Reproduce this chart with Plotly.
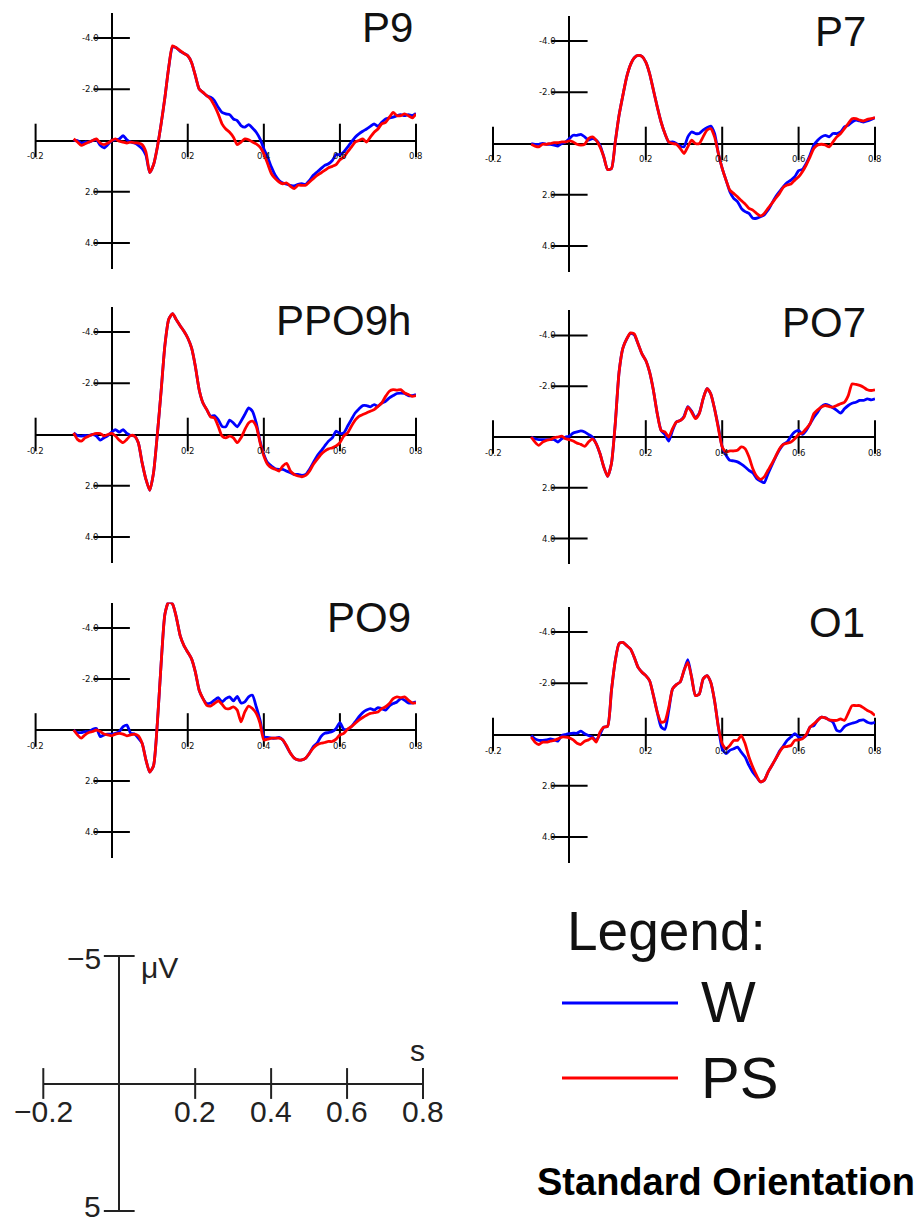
import plotly.graph_objects as go

# ---------------- data (µV, negative plotted upwards) ----------------
TIME_MS = list(range(-100, 801, 10))
TIME_S = [ms / 1000 for ms in TIME_MS]

P9_W = [0.00, 0.00, 0.10, 0.06, 0.06, 0.00, -0.03, 0.19, 0.29, 0.16,
        0.00, -0.03, -0.06, -0.19, -0.03, 0.06, 0.10, 0.19, 0.32, 0.58,
        1.25, 0.95, 0.26, -0.65, -1.69, -2.86, -3.65, -3.62, -3.48, -3.40,
        -3.31, -3.05, -2.53, -2.01, -1.88, -1.75, -1.69, -1.56, -1.30, -1.10,
        -1.04, -1.01, -0.84, -0.78, -0.58, -0.52, -0.62, -0.49, -0.32, -0.06,
        0.32, 0.65, 1.04, 1.36, 1.56, 1.66, 1.71, 1.75, 1.77, 1.71,
        1.69, 1.71, 1.56, 1.36, 1.23, 1.10, 0.97, 0.91, 0.78, 0.55,
        0.55, 0.45, 0.26, 0.06, -0.13, -0.26, -0.36, -0.45, -0.55, -0.65,
        -0.55, -0.71, -0.84, -0.88, -0.91, -0.97, -1.01, -0.97, -1.01, -0.97,
        -1.06]
P9_PS = [-0.06, 0.06, 0.19, 0.13, 0.06, 0.00, -0.06, 0.10, 0.16, 0.10,
         0.00, -0.06, 0.03, 0.06, 0.10, 0.06, 0.09, 0.10, 0.16, 0.45,
         1.25, 0.95, 0.26, -0.65, -1.69, -2.86, -3.70, -3.62, -3.51, -3.40,
         -3.31, -3.05, -2.53, -2.01, -1.88, -1.75, -1.62, -1.36, -1.04, -0.65,
         -0.45, -0.32, -0.13, 0.16, 0.06, -0.06, -0.03, 0.06, 0.13, 0.26,
         0.52, 0.91, 1.30, 1.49, 1.62, 1.69, 1.66, 1.79, 1.88, 1.75,
         1.75, 1.75, 1.62, 1.49, 1.36, 1.27, 1.17, 1.06, 1.01, 0.94,
         0.75, 0.65, 0.45, 0.26, 0.06, 0.00, -0.06, 0.06, -0.13, -0.32,
         -0.45, -0.65, -0.71, -0.91, -1.10, -0.97, -0.97, -1.04, -0.97, -0.88,
         -1.04]

P7_W = [0.00, 0.03, 0.03, 0.00, 0.03, 0.03, 0.06, 0.10, 0.00, -0.06,
        -0.19, -0.32, -0.32, -0.36, -0.26, -0.13, -0.19, -0.13, 0.06, 0.52,
        1.02, 0.98, -0.06, -1.10, -1.88, -2.60, -3.08, -3.35, -3.44, -3.40,
        -3.18, -2.73, -2.08, -1.43, -0.84, -0.39, -0.06, -0.06, 0.00, 0.10,
        0.13, -0.26, -0.45, -0.39, -0.39, -0.52, -0.62, -0.68, -0.39, 0.39,
        0.97, 1.43, 1.88, 2.14, 2.27, 2.53, 2.66, 2.73, 2.92, 2.92,
        2.86, 2.79, 2.60, 2.34, 2.08, 1.88, 1.69, 1.53, 1.43, 1.30,
        1.06, 1.01, 0.78, 0.45, 0.06, -0.13, -0.26, -0.32, -0.26, -0.39,
        -0.39, -0.45, -0.65, -0.71, -0.84, -0.91, -0.88, -0.84, -0.88, -0.94,
        -1.01]
P7_PS = [0.03, 0.10, 0.13, 0.03, 0.03, 0.00, -0.03, -0.03, -0.06, -0.06,
         -0.10, -0.06, 0.03, 0.06, 0.03, -0.19, -0.26, -0.13, 0.13, 0.52,
         1.02, 0.98, -0.06, -1.10, -1.88, -2.60, -3.08, -3.35, -3.44, -3.40,
         -3.18, -2.73, -2.08, -1.43, -0.84, -0.39, -0.06, 0.00, 0.03, 0.19,
         0.39, 0.13, -0.13, 0.00, 0.00, -0.26, -0.52, -0.58, -0.26, 0.39,
         0.97, 1.43, 1.82, 1.95, 2.08, 2.23, 2.36, 2.53, 2.60, 2.73,
         2.83, 2.73, 2.53, 2.34, 2.14, 1.95, 1.71, 1.62, 1.58, 1.43,
         1.30, 1.10, 0.84, 0.52, 0.19, 0.06, 0.03, 0.06, 0.13, -0.06,
         -0.26, -0.39, -0.58, -0.78, -0.97, -0.97, -0.91, -0.88, -0.94, -0.97,
         -1.01]

PPO9H_W = [-0.06, 0.04, 0.06, 0.04, 0.04, 0.00, 0.06, 0.22, 0.13, 0.04,
           -0.09, -0.19, -0.09, -0.19, -0.04, 0.04, 0.06, 0.32, 1.10, 1.75,
           2.18, 1.50, 0.00, -1.70, -3.50, -4.50, -4.72, -4.48, -4.25, -4.03,
           -3.77, -3.38, -2.66, -1.75, -1.23, -0.97, -0.71, -0.74, -0.58, -0.32,
           -0.30, -0.56, -0.45, -0.30, -0.52, -0.78, -1.04, -0.91, -0.45, 0.26,
           0.78, 1.10, 1.23, 1.34, 1.36, 1.36, 1.43, 1.49, 1.56, 1.56,
           1.60, 1.56, 1.36, 1.10, 0.84, 0.65, 0.45, 0.26, 0.13, -0.13,
           -0.04, -0.06, -0.32, -0.58, -0.84, -1.00, -1.13, -1.13, -1.08, -1.17,
           -1.10, -1.23, -1.30, -1.43, -1.52, -1.60, -1.62, -1.60, -1.52, -1.52,
           -1.56]
PPO9H_PS = [-0.06, 0.19, 0.26, 0.13, 0.06, 0.00, -0.04, -0.04, 0.06, 0.00,
            -0.04, 0.06, 0.22, 0.32, 0.19, 0.04, 0.06, 0.32, 1.10, 1.75,
            2.18, 1.50, 0.00, -1.70, -3.50, -4.50, -4.72, -4.48, -4.25, -4.03,
            -3.77, -3.38, -2.66, -1.75, -1.23, -0.97, -0.69, -0.65, -0.32, 0.06,
            0.13, 0.06, 0.13, 0.32, 0.13, -0.19, -0.45, -0.52, -0.32, 0.32,
            0.84, 1.17, 1.30, 1.36, 1.43, 1.23, 1.13, 1.43, 1.56, 1.62,
            1.65, 1.60, 1.43, 1.17, 0.97, 0.78, 0.65, 0.56, 0.52, 0.45,
            0.32, 0.06, -0.06, -0.32, -0.56, -0.71, -0.78, -0.84, -0.91, -0.97,
            -1.10, -1.23, -1.49, -1.69, -1.75, -1.73, -1.75, -1.62, -1.56, -1.49,
            -1.52]

PO7_W = [0.00, 0.07, 0.10, 0.10, 0.10, 0.10, 0.10, 0.20, 0.07, 0.00,
         -0.03, -0.16, -0.20, -0.24, -0.20, -0.10, 0.00, 0.26, 0.65, 1.18,
         1.55, 1.05, -0.52, -2.55, -3.50, -3.86, -4.08, -4.02, -3.66, -3.27,
         -3.01, -2.55, -1.83, -0.92, -0.26, -0.10, 0.16, -0.26, -0.59, -0.65,
         -0.81, -1.20, -1.02, -0.76, -0.94, -1.50, -1.90, -1.70, -1.11, -0.39,
         0.39, 0.72, 0.92, 0.94, 0.98, 1.07, 1.18, 1.31, 1.41, 1.63,
         1.73, 1.80, 1.44, 1.11, 0.78, 0.50, 0.29, 0.20, -0.03, -0.20,
         -0.26, -0.10, -0.26, -0.52, -0.78, -0.98, -1.20, -1.28, -1.24, -1.15,
         -1.05, -0.94, -1.11, -1.24, -1.33, -1.37, -1.44, -1.44, -1.50, -1.46,
         -1.50]
PO7_PS = [0.00, 0.20, 0.33, 0.20, 0.13, 0.10, 0.03, 0.00, -0.03, 0.07,
          0.10, 0.16, 0.24, 0.29, 0.37, 0.20, 0.07, 0.26, 0.65, 1.18,
          1.55, 1.05, -0.52, -2.55, -3.50, -3.86, -4.10, -4.05, -3.66, -3.27,
          -3.01, -2.55, -1.83, -0.92, -0.26, -0.20, 0.00, -0.33, -0.59, -0.65,
          -0.78, -1.18, -0.98, -0.72, -0.92, -1.50, -1.90, -1.70, -1.11, -0.33,
          0.39, 0.59, 0.55, 0.55, 0.52, 0.39, 0.46, 0.78, 1.24, 1.54,
          1.67, 1.57, 1.31, 1.05, 0.76, 0.46, 0.29, 0.24, 0.20, 0.07,
          -0.10, -0.16, -0.33, -0.52, -0.92, -1.07, -1.18, -1.24, -1.20, -1.18,
          -1.24, -1.31, -1.37, -1.63, -2.09, -2.07, -2.03, -1.96, -1.86, -1.83,
          -1.86]

PO9_W = [0.00, 0.10, 0.10, 0.06, 0.06, -0.03, -0.06, 0.26, 0.19, 0.16,
         0.16, 0.13, 0.06, -0.13, -0.19, 0.13, 0.16, 0.32, 0.52, 1.17,
         1.65, 1.40, -0.26, -2.60, -4.55, -5.02, -4.94, -4.42, -3.70, -3.31,
         -3.05, -2.79, -2.27, -1.56, -1.23, -1.04, -1.06, -1.17, -1.27, -1.10,
         -1.23, -1.30, -1.14, -1.32, -1.06, -1.10, -1.30, -1.36, -0.91, -0.39,
         0.26, 0.29, 0.32, 0.32, 0.29, 0.39, 0.65, 0.91, 1.10, 1.17,
         1.17, 1.10, 0.91, 0.65, 0.52, 0.26, 0.13, 0.10, 0.06, -0.06,
         -0.29, -0.03, -0.03, -0.13, -0.32, -0.52, -0.68, -0.78, -0.84, -0.78,
         -0.88, -0.84, -0.78, -0.94, -1.04, -1.10, -1.23, -1.17, -1.06, -1.06,
         -1.10]
PO9_PS = [0.00, 0.19, 0.32, 0.19, 0.10, 0.06, 0.00, 0.06, 0.16, 0.19,
          0.23, 0.16, 0.13, 0.16, 0.23, 0.19, 0.16, 0.23, 0.52, 1.17,
          1.65, 1.40, -0.26, -2.60, -4.55, -5.02, -4.94, -4.42, -3.70, -3.31,
          -3.05, -2.79, -2.27, -1.56, -1.23, -0.97, -0.94, -1.04, -1.14, -1.01,
          -0.84, -0.84, -0.91, -0.78, -0.32, -0.71, -0.94, -0.84, -0.65, -0.26,
          0.39, 0.36, 0.32, 0.32, 0.32, 0.39, 0.62, 0.91, 1.10, 1.17,
          1.17, 1.10, 0.91, 0.71, 0.58, 0.52, 0.49, 0.45, 0.45, 0.36,
          0.19, 0.13, -0.03, -0.13, -0.26, -0.39, -0.49, -0.58, -0.65, -0.68,
          -0.71, -0.84, -0.91, -1.04, -1.23, -1.30, -1.27, -1.30, -1.17, -1.06,
          -1.06]

O1_W = [0.04, 0.17, 0.23, 0.23, 0.21, 0.17, 0.21, 0.26, 0.04, 0.00,
        -0.03, -0.05, -0.05, -0.13, -0.03, 0.04, 0.10, 0.23, 0.00, -0.29,
        -0.32, -1.71, -2.88, -3.55, -3.60, -3.47, -3.34, -3.01, -2.62, -2.43,
        -2.30, -2.10, -1.52, -0.87, -0.30, -0.20, -0.93, -1.78, -1.95, -2.05,
        -2.50, -2.92, -2.23, -1.52, -1.58, -2.17, -2.30, -2.04, -1.32, -0.29,
        0.56, 0.75, 0.62, 0.56, 0.49, 0.69, 0.88, 1.21, 1.47, 1.66,
        1.85, 1.79, 1.47, 1.21, 0.95, 0.65, 0.45, 0.23, 0.10, -0.03,
        0.10, 0.13, 0.04, -0.29, -0.35, -0.57, -0.68, -0.65, -0.57, -0.48,
        -0.16, -0.13, -0.31, -0.39, -0.44, -0.48, -0.55, -0.57, -0.48, -0.44,
        -0.48]
O1_PS = [0.10, 0.30, 0.39, 0.30, 0.30, 0.26, 0.23, 0.17, 0.10, 0.10,
         0.13, 0.21, 0.34, 0.39, 0.26, 0.21, 0.13, 0.30, -0.09, -0.29,
         -0.32, -1.71, -2.88, -3.55, -3.60, -3.47, -3.34, -3.01, -2.62, -2.43,
         -2.30, -2.10, -1.52, -0.87, -0.48, -0.52, -1.06, -1.78, -1.95, -2.05,
         -2.50, -2.82, -2.23, -1.52, -1.58, -2.17, -2.30, -2.04, -1.32, -0.29,
         0.36, 0.56, 0.43, 0.23, 0.23, 0.04, 0.36, 0.88, 1.27, 1.60,
         1.85, 1.79, 1.47, 1.21, 0.95, 0.69, 0.49, 0.47, 0.43, 0.23,
         0.21, 0.17, 0.00, -0.29, -0.42, -0.55, -0.68, -0.65, -0.57, -0.55,
         -0.55, -0.61, -0.55, -0.83, -1.13, -1.13, -1.13, -1.04, -0.94, -0.87,
         -0.74]

CHANNELS = ["P9", "P7", "PPO9h", "PO7", "PO9", "O1"]
SERIES_W = [P9_W, P7_W, PPO9H_W, PO7_W, PO9_W, O1_W]
SERIES_PS = [P9_PS, P7_PS, PPO9H_PS, PO7_PS, PO9_PS, O1_PS]
CONDITIONS = ["W", "PS"]

X_TICKS = [-0.2, 0.2, 0.4, 0.6, 0.8]
X_TICK_TEXT = ["-0.2", "0.2", "0.4", "0.6", "0.8"]
Y_TICKS = [-4, -2, 2, 4]
Y_TICK_TEXT = ["-4.0", "-2.0", "2.0", "4.0"]
SCALE_X_TEXT = ["\u22120.2", "0.2", "0.4", "0.6", "0.8"]
SCALE_Y_TICKS = [-5, 5]
SCALE_Y_TEXT = ["\u22125", "5"]

# ---------------- layout (pixels) ----------------
W, H = 924, 1224


def px(x):
    return x / W


def py(y):
    return 1 - y / H


PANEL_BOXES = [  # x(-0.2), x(0.8), y(-5), y(5)
    (35.6, 416.0, 12.5, 268.5),
    (493.0, 875.0, 15.5, 271.5),
    (35.6, 416.0, 306.5, 562.5),
    (493.0, 875.0, 310.0, 564.0),
    (35.6, 416.0, 602.5, 857.5),
    (493.0, 875.0, 606.5, 862.5),
]
TITLE_POS = [(415, 27), (868, 31), (413, 321), (868, 322.5), (413, 617.5), (867, 622.5)]
SCALE_BOX = (43.3, 423.0, 956.0, 1211.0)

BLUE = "#0000ff"
RED = "#ff0000"
SANS = "Liberation Sans, Arial, Helvetica, sans-serif"
TICKFONT = dict(family="DejaVu Sans, sans-serif", size=8.5, color="#111111")

fig = go.Figure()
layout = dict(width=W, height=H, margin=dict(l=0, r=0, t=0, b=0),
              paper_bgcolor="white", plot_bgcolor="rgba(0,0,0,0)",
              showlegend=False, annotations=[], shapes=[])


def add_axes(idx, box, axcolor, axwidth):
    x0, x1, y0, y1 = box
    sfx = "" if idx == 1 else str(idx)
    common = dict(showgrid=False, zeroline=True, zerolinecolor=axcolor,
                  zerolinewidth=axwidth, showticklabels=False, ticks="",
                  showline=False, fixedrange=True)
    layout["xaxis" + sfx] = dict(domain=[px(x0), px(x1)], range=[-0.2, 0.8],
                                 anchor="y" + sfx, **common)
    layout["yaxis" + sfx] = dict(domain=[py(y1), py(y0)], range=[5, -5],
                                 anchor="x" + sfx, **common)
    return "x" + sfx, "y" + sfx


for i, name in enumerate(CHANNELS, start=1):
    xa, ya = add_axes(i, PANEL_BOXES[i - 1], "black", 2)
    # tick marks
    fig.add_trace(go.Scatter(x=X_TICKS, y=[0] * len(X_TICKS), mode="markers",
                             marker=dict(symbol="line-ns", size=24,
                                         line=dict(width=2, color="black")),
                             xaxis=xa, yaxis=ya, cliponaxis=False, hoverinfo="skip"))
    fig.add_trace(go.Scatter(x=[0] * len(Y_TICKS), y=Y_TICKS, mode="markers",
                             marker=dict(symbol="line-ew", size=26,
                                         line=dict(width=2, color="black")),
                             xaxis=xa, yaxis=ya, cliponaxis=False, hoverinfo="skip"))
    # waveforms
    for cond, vals, col in ((CONDITIONS[0], SERIES_W[i - 1], BLUE),
                            (CONDITIONS[1], SERIES_PS[i - 1], RED)):
        fig.add_trace(go.Scatter(x=TIME_S, y=vals, mode="lines", name=cond,
                                 line=dict(color=col, width=2.8, shape="spline",
                                           smoothing=0.6),
                                 xaxis=xa, yaxis=ya, cliponaxis=False))
    # tick labels
    for t, txt in zip(X_TICKS, X_TICK_TEXT):
        layout["annotations"].append(dict(x=t, y=0, xref=xa, yref=ya, text=txt,
                                          showarrow=False, yshift=-16,
                                          font=TICKFONT))
    for v, txt in zip(Y_TICKS, Y_TICK_TEXT):
        layout["annotations"].append(dict(x=0, y=v, xref=xa, yref=ya, text=txt,
                                          showarrow=False, xanchor="right",
                                          xshift=-11, font=TICKFONT))
    tx, ty = TITLE_POS[i - 1]
    layout["annotations"].append(dict(x=px(tx), y=py(ty), xref="paper", yref="paper",
                                      text=name, showarrow=False, xanchor="right",
                                      yanchor="middle",
                                      font=dict(family=SANS, size=42, color="#111111")))

# ---------------- scale bar ----------------
xs, ys = add_axes(7, SCALE_BOX, "#222222", 2)
fig.add_trace(go.Scatter(x=X_TICKS, y=[0] * len(X_TICKS), mode="markers",
                         marker=dict(symbol="line-ns", size=22,
                                     line=dict(width=2, color="#222222")),
                         xaxis=xs, yaxis=ys, cliponaxis=False, hoverinfo="skip"))
fig.add_trace(go.Scatter(x=[0] * len(SCALE_Y_TICKS), y=SCALE_Y_TICKS, mode="markers",
                         marker=dict(symbol="line-ew", size=22,
                                     line=dict(width=2, color="#222222")),
                         xaxis=xs, yaxis=ys, cliponaxis=False, hoverinfo="skip"))
SCALEFONT = dict(family=SANS, size=30, color="#222222")
for t, txt in zip(X_TICKS, SCALE_X_TEXT):
    layout["annotations"].append(dict(x=t, y=0, xref=xs, yref=ys, text=txt,
                                      showarrow=False, yshift=-28, font=SCALEFONT))
for v, txt, ysh in zip(SCALE_Y_TICKS, SCALE_Y_TEXT, [-2, 5]):
    layout["annotations"].append(dict(x=0, y=v, xref=xs, yref=ys, text=txt,
                                      showarrow=False, xanchor="right", xshift=-16,
                                      yshift=ysh, font=SCALEFONT))
layout["annotations"].append(dict(x=0, y=-5, xref=xs, yref=ys, text="\u03bcV",
                                  showarrow=False, xanchor="left", xshift=20,
                                  yshift=-11, font=SCALEFONT))
layout["annotations"].append(dict(x=0.8, y=0, xref=xs, yref=ys, text="s",
                                  showarrow=False, xanchor="right", xshift=4,
                                  yshift=33, font=SCALEFONT))

# ---------------- legend ----------------
LEGEND_ROWS = [(CONDITIONS[0], BLUE, 1003, 1001.5), (CONDITIONS[1], RED, 1078, 1077.5)]
layout["annotations"].append(dict(x=px(565), y=py(931), xref="paper", yref="paper",
                                  text="Legend:", showarrow=False, xanchor="left",
                                  yanchor="middle",
                                  font=dict(family=SANS, size=55, color="#111111")))
for label, col, ly, ty in LEGEND_ROWS:
    layout["shapes"].append(dict(type="line", xref="paper", yref="paper",
                                 x0=px(562), x1=px(678), y0=py(ly), y1=py(ly),
                                 line=dict(color=col, width=3)))
    layout["annotations"].append(dict(x=px(699), y=py(ty), xref="paper", yref="paper",
                                      text=label, showarrow=False, xanchor="left",
                                      yanchor="middle",
                                      font=dict(family=SANS, size=58, color="#111111")))
layout["annotations"].append(dict(x=px(535), y=py(1182), xref="paper", yref="paper",
                                  text="<b>Standard Orientation</b>", showarrow=False,
                                  xanchor="left", yanchor="middle",
                                  font=dict(family=SANS, size=38, color="black")))

fig.update_layout(**layout)
fig.write_html("out.html", config={"displayModeBar": False, "staticPlot": True},
               post_script="document.body.style.margin='0';document.body.style.overflow='hidden';")
